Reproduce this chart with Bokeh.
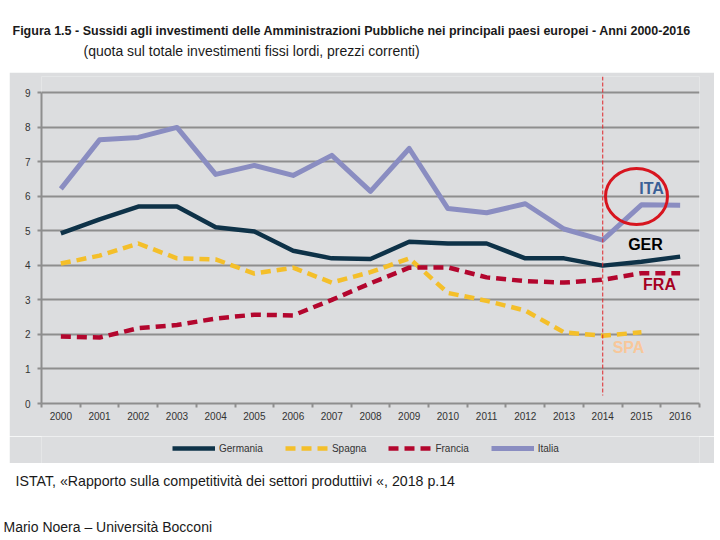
from bokeh.plotting import figure
from bokeh.layouts import column, row
from bokeh.models import (ColumnDataSource, FixedTicker, Label, Legend,
                          LegendItem, Range1d, Spacer)
from bokeh.embed import file_html
from bokeh.resources import INLINE

# ---- data: subsidies to investment, % of gross fixed investment ----
years = list(range(2000, 2017))
germania = [4.92, 5.33, 5.70, 5.70, 5.10, 4.98, 4.42, 4.20, 4.18, 4.68, 4.63, 4.63, 4.20, 4.20, 3.99, 4.10, 4.25]
spagna = [4.05, 4.28, 4.63, 4.20, 4.17, 3.76, 3.93, 3.50, 3.80, 4.20, 3.20, 2.97, 2.69, 2.06, 1.96, 2.06]
francia = [1.94, 1.91, 2.18, 2.27, 2.46, 2.57, 2.55, 3.00, 3.48, 3.93, 3.94, 3.65, 3.54, 3.50, 3.58, 3.77, 3.77]
italia = [6.21, 7.63, 7.70, 7.99, 6.63, 6.89, 6.60, 7.18, 6.14, 7.38, 5.64, 5.52, 5.78, 5.05, 4.73, 5.75, 5.74]

series_names = ["Germania", "Spagna", "Francia", "Italia"]
y_ticks = list(range(0, 10))
marker_year = 2014

TITLE = ("Figura 1.5 - Sussidi agli investimenti delle Amministrazioni "
         "Pubbliche nei principali paesi europei - Anni 2000-2016")
SUBTITLE = "(quota sul totale investimenti fissi lordi, prezzi correnti)"
SOURCE = "ISTAT, \u00abRapporto sulla competitivit\u00e0 dei settori produttiivi \u00ab, 2018 p.14"
AUTHOR = "Mario Noera \u2013 Universit\u00e0 Bocconi"

# ---- page geometry (pixels) ----
W, H = 720, 540
PANEL_L, PANEL_R, PANEL_T, PANEL_B = 9, 714, 72, 463
LEGEND_T = 436                      # top of the legend strip inside the panel
FRAME_L, FRAME_R, FRAME_T, FRAME_B = 41, 699, 76, 403
TOP_TICK_Y = 92                     # pixel row of the "9" gridline
X_START, X_END = 1999.5, 2016.5
PX_PER_UNIT = (FRAME_B - TOP_TICK_Y) / 9.0
Y_END = (FRAME_B - FRAME_T) / PX_PER_UNIT
X_PER_PX = (X_END - X_START) / (FRAME_R - FRAME_L)


def dx(px):
    return X_START + (px - FRAME_L) * X_PER_PX


def dy(py):
    return (FRAME_B - py) / PX_PER_UNIT


FONT = "'Liberation Sans', Arial, sans-serif"

PANEL = "#dcdddf"
GRID = "#8e8e8e"
C_GER = "#0e3248"
C_SPA = "#f4bf2a"
C_FRA = "#b3062e"
C_ITA = "#8a8dc1"
TEXT = "#1a1a1a"
DASH = "10 6"

STYLES = {
    "Germania": dict(line_color=C_GER, line_width=4.5, line_join="round"),
    "Spagna": dict(line_color=C_SPA, line_width=4.5, line_dash=DASH),
    "Francia": dict(line_color=C_FRA, line_width=4.5, line_dash=DASH),
    "Italia": dict(line_color=C_ITA, line_width=5, line_join="round"),
}


def blank_strip(width, height, x_left, y_top, fill, border_l=0, border_r=0):
    """A figure without axes whose data coordinates equal page pixels."""
    f = figure(width=width, height=height, output_backend="svg",
               toolbar_location=None,
               x_range=Range1d(x_left + border_l, x_left + width - border_r),
               y_range=Range1d(y_top + height, y_top),
               x_axis_location=None, y_axis_location=None,
               min_border=0, min_border_left=border_l,
               min_border_right=border_r, outline_line_color=None)
    f.xgrid.grid_line_color = None
    f.ygrid.grid_line_color = None
    f.background_fill_color = fill
    f.border_fill_color = fill
    return f


# ---- header ----
head = blank_strip(W, PANEL_T, 0, 0, "white")
head.add_layout(Label(x=12, y=30, text=TITLE, text_align="left",
                      text_baseline="middle", text_font=FONT,
                      text_font_style="bold", text_font_size="12.5px",
                      text_color=TEXT))
head.add_layout(Label(x=83, y=50, text=SUBTITLE, text_align="left",
                      text_baseline="middle", text_font=FONT,
                      text_font_size="14px", text_color=TEXT))

# ---- chart on its grey panel ----
p = figure(width=PANEL_R - PANEL_L, height=LEGEND_T - PANEL_T,
           output_backend="svg", toolbar_location=None,
           x_range=Range1d(X_START, X_END), y_range=Range1d(0, Y_END),
           min_border_left=FRAME_L - PANEL_L, min_border_right=PANEL_R - FRAME_R,
           min_border_top=FRAME_T - PANEL_T, min_border_bottom=LEGEND_T - FRAME_B)
p.outline_line_color = None
p.background_fill_color = PANEL
p.border_fill_color = PANEL

p.xgrid.grid_line_color = None
p.ygrid.ticker = FixedTicker(ticks=y_ticks)
p.ygrid.grid_line_color = GRID
p.ygrid.grid_line_width = 2

p.yaxis.ticker = FixedTicker(ticks=y_ticks)
p.yaxis.bounds = (0, 9)
p.yaxis.axis_line_color = GRID
p.yaxis.axis_line_width = 2
p.yaxis.major_tick_line_color = GRID
p.yaxis.major_tick_line_width = 2
p.yaxis.major_tick_in = 0
p.yaxis.major_tick_out = 4
p.yaxis.minor_tick_line_color = None
p.yaxis.major_label_standoff = 7
p.yaxis.major_label_text_font_size = "10px"
p.yaxis.major_label_text_color = "#333333"
p.yaxis.major_label_text_font = FONT

# year labels in the middle of each slot, tick marks on the slot edges
boundaries = [y - 0.5 for y in years] + [years[-1] + 0.5]
p.xaxis.ticker = FixedTicker(ticks=years, minor_ticks=boundaries)
p.xaxis.axis_line_color = GRID
p.xaxis.axis_line_width = 2
p.xaxis.major_tick_line_color = None
p.xaxis.major_tick_in = 0
p.xaxis.major_tick_out = 0
p.xaxis.minor_tick_line_color = GRID
p.xaxis.minor_tick_line_width = 2
p.xaxis.minor_tick_in = 0
p.xaxis.minor_tick_out = 4
p.xaxis.major_label_standoff = 4
p.xaxis.major_label_text_font_size = "10px"
p.xaxis.major_label_text_color = "#333333"
p.xaxis.major_label_text_font = FONT

src = ColumnDataSource(dict(x=years, ger=germania, fra=francia, ita=italia))
src_spa = ColumnDataSource(dict(x=years[:len(spagna)], spa=spagna))

p.line("x", "ger", source=src, **STYLES["Germania"])
p.line("x", "spa", source=src_spa, **STYLES["Spagna"])
p.line("x", "fra", source=src, **STYLES["Francia"])
p.line("x", "ita", source=src, **STYLES["Italia"])

# dashed marker on the last observed year
p.segment(x0=[marker_year], y0=[dy(76)], x1=[marker_year], y1=[dy(395)],
          line_color="#e0262b", line_width=1, line_dash="4 2")

# highlight around the Italian series tag
p.ellipse(x=[dx(636)], y=[dy(196)], width=62 * X_PER_PX,
          height=56 / PX_PER_UNIT, fill_color=None,
          line_color="#d7151f", line_width=3)

series_tags = [("ITA", 651, 188, "#3a6096"), ("GER", 645, 244, "#000000"),
               ("FRA", 659, 284, "#a5001f"), ("SPA", 628, 347, "#f8c79a")]
for txt, px, py, col in series_tags:
    p.add_layout(Label(x=dx(px), y=dy(py), text=txt, text_align="center",
                       text_baseline="middle", text_font=FONT,
                       text_font_style="bold", text_font_size="16px",
                       text_color=col))

# ---- legend strip at the foot of the grey panel ----
# The strip's frame lines up with the chart frame; its series lines fall
# outside the strip's pixel ranges, so only their legend samples show.
leg_fig = blank_strip(PANEL_R - PANEL_L, PANEL_B - LEGEND_T, PANEL_L, LEGEND_T,
                      PANEL, border_l=FRAME_L - PANEL_L,
                      border_r=PANEL_R - FRAME_R)
leg_data = ColumnDataSource(dict(x=years, ger=germania, fra=francia, ita=italia))
leg_spa = ColumnDataSource(dict(x=years[:len(spagna)], spa=spagna))
leg_renderers = [
    leg_fig.line("x", "ger", source=leg_data, **STYLES["Germania"]),
    leg_fig.line("x", "spa", source=leg_spa, **STYLES["Spagna"]),
    leg_fig.line("x", "fra", source=leg_data, **STYLES["Francia"]),
    leg_fig.line("x", "ita", source=leg_data, **STYLES["Italia"]),
]
LEG_H = 16
legend = Legend(items=[LegendItem(label=n, renderers=[r])
                       for n, r in zip(series_names, leg_renderers)],
                orientation="horizontal",
                location=(172 - FRAME_L, (PANEL_B - 448) - LEG_H / 2),
                glyph_width=43, glyph_height=10, label_standoff=4, spacing=22,
                padding=0, margin=0, border_line_color=None,
                background_fill_alpha=0, label_text_font_size="10px",
                label_text_font=FONT, label_text_color="#333333",
                label_height=LEG_H)
leg_fig.add_layout(legend, "center")

# ---- footer ----
foot = blank_strip(W, H - PANEL_B, 0, PANEL_B, "white")
foot.add_layout(Label(x=15, y=480, text=SOURCE, text_align="left",
                      text_baseline="middle", text_font=FONT,
                      text_font_size="14.2px", text_color=TEXT))
foot.add_layout(Label(x=3, y=526, text=AUTHOR, text_align="left",
                      text_baseline="middle", text_font=FONT,
                      text_font_size="14px", text_color=TEXT))

middle = row(Spacer(width=PANEL_L, height=PANEL_B - PANEL_T),
             column(p, leg_fig),
             Spacer(width=W - PANEL_R, height=PANEL_B - PANEL_T))
page = column(head, middle, foot)

open("out.html", "w").write(file_html(page, INLINE))
